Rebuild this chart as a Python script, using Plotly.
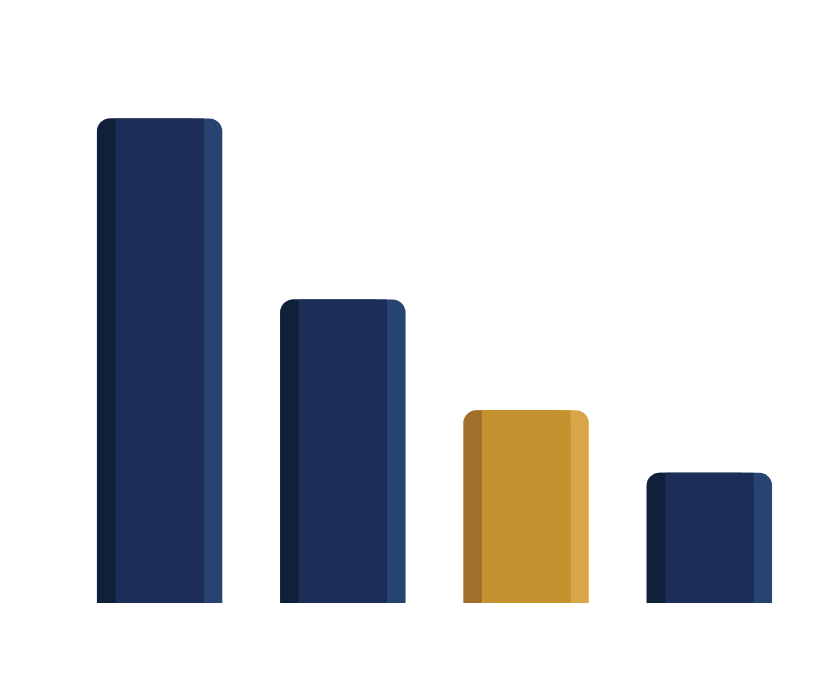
import plotly.graph_objects as go

# Data
categories = [0, 1, 2, 3]
values = [37.2, 23.3, 14.8, 10.0]
highlight = [False, False, True, False]

# Colour sets (left shade, centre, right shade)
navy = ("#112039", "#1c2e58", "#27436f")
gold = ("#a0702b", "#c4922f", "#d9a548")

left_cols = [gold[0] if h else navy[0] for h in highlight]
mid_cols = [gold[1] if h else navy[1] for h in highlight]
right_cols = [gold[2] if h else navy[2] for h in highlight]

W = 0.684   # full bar width (category units)
B = 0.101   # side-band width
R = 13      # corner radius px

fig = go.Figure()
# right shade: full width, rounded
fig.add_trace(go.Bar(x=categories, y=values, offset=-W / 2, width=W,
                     marker=dict(color=right_cols, cornerradius=R, line=dict(width=0)),
                     hoverinfo="skip"))
# left shade: from left edge to start of right band, rounded
fig.add_trace(go.Bar(x=categories, y=values, offset=-W / 2, width=W - B,
                     marker=dict(color=left_cols, cornerradius=R, line=dict(width=0)),
                     hoverinfo="skip"))
# centre: square top
fig.add_trace(go.Bar(x=categories, y=values, offset=-W / 2 + B, width=W - 2 * B,
                     marker=dict(color=mid_cols, cornerradius=0, line=dict(width=0)),
                     hoverinfo="skip"))

fig.update_layout(
    width=821, height=679,
    barmode="overlay",
    showlegend=False,
    paper_bgcolor="white", plot_bgcolor="white",
    margin=dict(l=60, r=28, t=74, b=84),
    xaxis=dict(range=[-0.5, 3.5], visible=False, fixedrange=True),
    yaxis=dict(range=[0, 40], visible=False, fixedrange=True),
)

fig.write_html("out.html")
